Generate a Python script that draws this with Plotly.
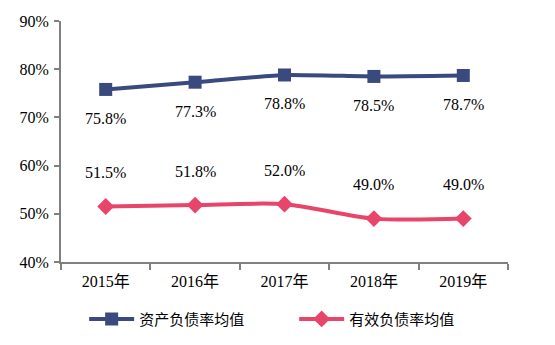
import plotly.graph_objects as go

years = ["2015年", "2016年", "2017年", "2018年", "2019年"]
asset_ratio = [75.8, 77.3, 78.8, 78.5, 78.7]
effective_ratio = [51.5, 51.8, 52.0, 49.0, 49.0]
y_ticks = [40, 50, 60, 70, 80, 90]

blue = "#3A4A7F"
red = "#E8456B"
font_fam = "Liberation Serif, Times New Roman, Noto Sans CJK SC, serif"

fig = go.Figure()
fig.add_trace(go.Scatter(
    x=years, y=asset_ratio, name="资产负债率均值", mode="lines+markers",
    line=dict(color=blue, width=4, shape="spline", smoothing=0.5),
    marker=dict(symbol="square", size=13, color=blue),
))
fig.add_trace(go.Scatter(
    x=years, y=effective_ratio, name="有效负债率均值", mode="lines+markers",
    line=dict(color=red, width=4, shape="spline", smoothing=0.8),
    marker=dict(symbol="diamond", size=13, color=red),
))

annotations = []
for x, v in zip(years, asset_ratio):
    annotations.append(dict(x=x, y=v, text=f"{v:.1f}%", showarrow=False, yshift=-29,
                            font=dict(family=font_fam, size=16, color="#000")))
for x, v in zip(years, effective_ratio):
    annotations.append(dict(x=x, y=v, text=f"{v:.1f}%", showarrow=False, yshift=34,
                            font=dict(family=font_fam, size=16, color="#000")))

fig.update_layout(
    width=555, height=345,
    margin=dict(l=61, r=47, t=21, b=83, autoexpand=False),
    paper_bgcolor="white", plot_bgcolor="white",
    font=dict(family=font_fam, size=16, color="#000"),
    annotations=annotations,
    showlegend=True,
    legend=dict(orientation="h", xref="container", x=0.53, xanchor="center",
                yref="container", y=0.075, yanchor="middle",
                font=dict(family="Noto Sans CJK SC, sans-serif", size=15, color="#000"),
                itemwidth=45, entrywidthmode="pixels", entrywidth=150),
)
fig.update_xaxes(
    type="category", range=[-0.5, 4.5], tickson="boundaries",
    showline=True, linecolor="#808080", linewidth=2,
    ticks="outside", ticklen=6, tickcolor="#808080", tickwidth=2,
    showgrid=False, zeroline=False, ticklabelstandoff=4,
    tickfont=dict(family=font_fam, size=16),
)
fig.update_yaxes(
    range=[40, 90], tickvals=y_ticks, ticktext=[f"{t}%" for t in y_ticks],
    showline=True, linecolor="#808080", linewidth=2,
    ticks="outside", ticklen=5, tickcolor="#808080", tickwidth=2,
    showgrid=False, zeroline=False, ticklabelstandoff=2,
    tickfont=dict(family=font_fam, size=16),
)

fig.write_html("out.html")
